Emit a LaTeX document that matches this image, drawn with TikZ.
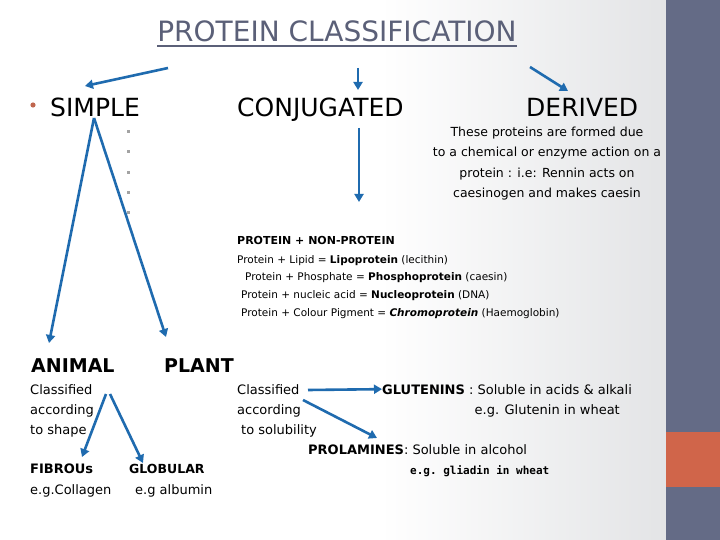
\documentclass[tikz,border=0pt]{standalone}
\usepackage{fontspec}
\setmainfont{DejaVu Sans}
\setmonofont{DejaVu Sans Mono}
\definecolor{pcblue}{HTML}{1F6BAF}
\definecolor{pcslate}{HTML}{646B86}
\definecolor{pcorange}{HTML}{D0654A}
\definecolor{pctitle}{HTML}{5B6078}
\definecolor{pcdot}{HTML}{A3A3A3}
\definecolor{pcbullet}{HTML}{C0664E}
\definecolor{pcfade}{HTML}{E3E4E6}
\usetikzlibrary{arrows.meta}

\begin{document}
\begin{tikzpicture}[x=1bp, y=-1bp,
    every node/.style={inner sep=0pt, anchor=base west},
    arr/.style={-{Triangle[length=8bp, width=9bp]}, pcblue, line width=2.6bp},
    head/.style={font=\fontsize{25bp}{30bp}\selectfont},
    kind/.style={font=\fontsize{19bp}{23bp}\selectfont\bfseries},
    note/.style={font=\fontsize{13bp}{20bp}\selectfont, align=left},
    sub/.style={font=\fontsize{12.5bp}{20bp}\selectfont\bfseries},
    small/.style={font=\fontsize{10.5bp}{17.5bp}\selectfont, align=left}]
  % slide background and side bar
  \fill[white] (0,0) rectangle (720,540);
  \shade[left color=white, right color=pcfade] (380,0) rectangle (666,540);
  \fill[pcslate] (666,0) rectangle (720,540);
  \fill[pcorange] (666,432) rectangle (720,487);

  % title
  \node[font=\fontsize{28bp}{32bp}\selectfont, text=pctitle, anchor=base] (title) at (337,42) {PROTEIN CLASSIFICATION};
  \draw[pctitle, line width=1.4bp] ([yshift=-4bp]title.base west) -- ([yshift=-4bp]title.base east);

  % the three classes
  \fill[pcbullet] (33,105) circle (2.6);
  \node[head] (simple) at (50,117) {SIMPLE};
  \node[head] (conj) at (237,117) {CONJUGATED};
  \node[head] (derived) at (526,117) {DERIVED};
  \foreach \y in {132,152,173,193,213}
    \fill[pcdot] (126.5,\y-1.5) rectangle ++(3,3);

  % multi-line nodes sit on the baseline of their last line
  \node[note, font=\fontsize{12.5bp}{20.5bp}\selectfont, align=center, anchor=base] (derivednote) at (547,198)
    {These proteins are formed due\\to a chemical or enzyme action on a\\protein : i.e: Rennin acts on\\caesinogen and makes caesin};

  % conjugated
  \node[font=\fontsize{11bp}{13bp}\selectfont\bfseries] (pnp) at (237,245) {PROTEIN + NON-PROTEIN};
  \node[small] (conjlist) at (237,316)
    {Protein + Lipid = \textbf{Lipoprotein} (lecithin)\\
     \hspace*{8bp}Protein + Phosphate = \textbf{Phosphoprotein} (caesin)\\
     \hspace*{4bp}Protein + nucleic acid = \textbf{Nucleoprotein} (DNA)\\
     \hspace*{4bp}Protein + Colour Pigment = \textbf{\itshape Chromoprotein} (Haemoglobin)};

  % simple
  \node[kind] (animal) at (31,372) {ANIMAL};
  \node[kind] (plant) at (164,372) {PLANT};
  \node[note] (shapenote) at (30,434) {Classified\\according\\to shape};
  \node[sub, font=\fontsize{13bp}{16bp}\selectfont\bfseries] (fibrous) at (30,473) {FIBROUs};
  \node[note] (collagen) at (30,494) {e.g.Collagen};
  \node[sub] (globular) at (129,473) {GLOBULAR};
  \node[note] (albumin) at (135,494) {e.g albumin};

  \node[note] (solnote) at (237,434) {Classified\\according\\\hspace*{4bp}to solubility};
  \node[note] (glutenins) at (382,394) {\textbf{GLUTENINS} : Soluble in acids \& alkali};
  \node[note, anchor=base east] (glutenineg) at (620,414) {e.g. Glutenin in wheat};
  \node[note] (prolamines) at (308,454) {\textbf{PROLAMINES}: Soluble in alcohol};
  \node[font=\fontsize{11bp}{14bp}\selectfont\ttfamily\bfseries] (gliadin) at (410,474) {e.g. gliadin in wheat};

  % arrow ends
  \coordinate (tsimple) at (168,68);
  \coordinate (hsimple) at (85,86);
  \coordinate (tconj) at (358,68);
  \coordinate (hconj) at (358,90);
  \coordinate (tderived) at (530,67);
  \coordinate (hderived) at (568,91);
  \coordinate (apex) at (94,118);
  \coordinate (hanimal) at (49,343);
  \coordinate (hplant) at (166,337);
  \coordinate (tpnp) at (359,128);
  \coordinate (hpnp) at (359,202);
  \coordinate (tshape1) at (106,394);
  \coordinate (tshape2) at (110,394);
  \coordinate (hfibrous) at (82,457);
  \coordinate (hglobular) at (143,463);
  \coordinate (tsol1) at (308,390);
  \coordinate (tsol2) at (303,400);
  \coordinate (hprolamines) at (377,438);

  \draw[arr] (tsimple) -- (hsimple);
  \draw[arr] (tconj) -- (hconj);
  \draw[arr] (tderived) -- (hderived);
  \draw[arr] (apex) -- (hanimal);
  \draw[arr] (apex) -- (hplant);
  \draw[arr] (tpnp) -- (hpnp);
  \draw[arr] (tshape1) -- (hfibrous);
  \draw[arr] (tshape2) -- (hglobular);
  \draw[arr] (tsol1) -- (glutenins.west);
  \draw[arr] (tsol2) -- (hprolamines);
\end{tikzpicture}
\end{document}
